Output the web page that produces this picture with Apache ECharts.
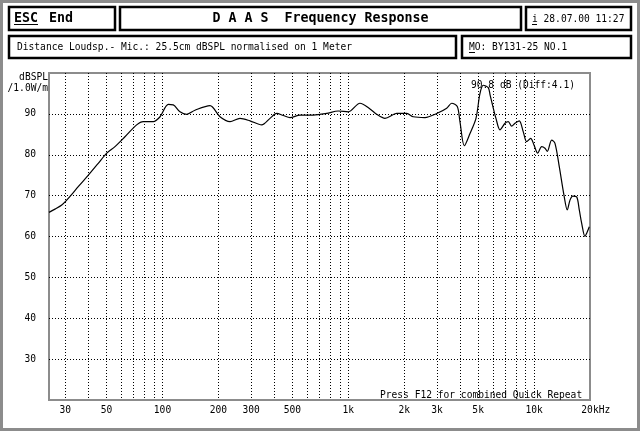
<!DOCTYPE html>
<html>
<head>
<meta charset="utf-8">
<script src="https://cdn.jsdelivr.net/npm/echarts@6/dist/echarts.min.js"></script>
<style>
html,body{margin:0;padding:0;background:#fff;}
#chart{width:640px;height:431px;}
</style>
</head>
<body>
<div id="chart"></div>
<script>
// ---- data ----
const freqHz = [24.5, 26.4, 28.7, 30.5, 32.5, 35.2, 39.9, 45.1, 50.1, 55.5, 62.8, 72.6, 78.8, 89.2, 97, 107.5, 114.3, 124.2, 135, 149.6, 180.2, 203.9, 230.9, 261.3, 295.8, 342, 379, 411.9, 447, 485.6, 549.6, 648, 765, 883, 1000, 1156, 1309, 1421, 1576, 1822, 2063, 2238, 2587, 2991, 3386, 3604, 3861, 3991, 4212, 4520, 4868, 5116, 5329, 5669, 5800, 5950, 6235, 6554, 6975, 7264, 7578, 7894, 8325, 8749, 9124, 9589, 9989, 10457, 10991, 11446, 11780, 12439, 12958, 13666, 14487, 15092, 15607, 16141, 16959, 17515, 18044, 18796, 19198, 19825];
const splDb = [65.9, 66.7, 67.7, 68.9, 70.3, 72.2, 75.0, 77.9, 80.4, 82.0, 84.4, 87.3, 88.1, 88.1, 89.3, 92.3, 92.2, 90.5, 89.9, 90.9, 92.0, 89.3, 88.1, 88.9, 88.3, 87.3, 88.9, 90.1, 89.6, 89.1, 89.7, 89.7, 90.1, 90.7, 90.5, 92.6, 91.2, 89.9, 88.9, 90.1, 90.1, 89.3, 89.1, 90.1, 91.4, 92.6, 91.8, 88.1, 82.2, 85.2, 88.9, 95.0, 97.0, 96.4, 94.6, 92.5, 88.9, 86.1, 87.7, 88.1, 87.0, 87.7, 88.3, 85.6, 83.2, 84.0, 82.4, 80.4, 82.0, 81.6, 80.8, 83.6, 82.8, 77.1, 70.1, 66.5, 68.9, 69.9, 69.7, 66.5, 63.2, 60.0, 60.8, 62.4];

const gridFreqs = [30, 40, 50, 60, 70, 80, 90, 100, 200, 300, 400, 500, 600, 700, 800, 900, 1000, 2000, 3000, 4000, 5000, 6000, 7000, 8000, 9000, 10000];
const labelFreqs = [30, 50, 100, 200, 300, 500, 1000, 2000, 3000, 5000, 10000, 20000];
const labelTexts = ['30', '50', '100', '200', '300', '500', '1k', '2k', '3k', '5k', '10k', '  20kHz'];
const yTicks = [30, 40, 50, 60, 70, 80, 90];

const MONO = '"DejaVu Sans Mono", "Liberation Mono", monospace';
const chart = echarts.init(document.getElementById('chart'), null, {renderer: 'canvas'});

function fmtX(v) {
  for (let i = 0; i < labelFreqs.length; i++) {
    if (Math.abs(v - labelFreqs[i]) / labelFreqs[i] < 1e-4) return labelTexts[i];
  }
  return '';
}

function txt(x, y, text, opts) {
  opts = opts || {};
  return {
    type: 'text', z: 100,
    style: {
      x: x, y: y, text: text,
      font: opts.font || ('9.6px ' + MONO),
      fill: opts.fill || '#000',
      align: opts.align || 'left', textAlign: opts.align || 'left',
      verticalAlign: 'middle', textVerticalAlign: 'middle'
    }
  };
}
function box(x, y, w, h) {
  return {type: 'rect', z: 100, shape: {x: x, y: y, width: w, height: h},
    style: {fill: 'none', stroke: '#000', lineWidth: 2.5}};
}
function uline(x1, x2, y) {
  return {type: 'line', z: 100, shape: {x1: x1, y1: y, x2: x2, y2: y},
    style: {stroke: '#000', lineWidth: 1}};
}

const seriesData = freqHz.map((f, i) => [f, splDb[i]]);
const BOLD = 'bold 13.3px ' + MONO;

const option = {
  animation: false,
  backgroundColor: '#fff',
  grid: {left: 49, top: 73, width: 541, height: 327, show: true,
    borderColor: '#8c8c8c', borderWidth: 2, backgroundColor: 'transparent'},
  xAxis: {
    type: 'log', logBase: 10, min: 24.5, max: 20000,
    axisLine: {show: false},
    axisTick: {show: false, customValues: gridFreqs},
    minorTick: {show: false},
    splitLine: {show: true, lineStyle: {color: '#000', width: 1, type: [1, 2]}},
    axisLabel: {customValues: labelFreqs, formatter: fmtX, color: '#000',
      fontFamily: '"DejaVu Sans Mono"', fontSize: 9.6, margin: 5}
  },
  yAxis: {
    type: 'value', min: 20, max: 100, interval: 10,
    axisLine: {show: false},
    axisTick: {show: false, customValues: yTicks},
    splitLine: {show: true, lineStyle: {color: '#000', width: 1, type: [1, 2]}},
    axisLabel: {customValues: yTicks, color: '#000',
      fontFamily: '"DejaVu Sans Mono"', fontSize: 9.6, margin: 13}
  },
  series: [{
    type: 'line', data: seriesData, symbol: 'none', showSymbol: false,
    smooth: 0.3, lineStyle: {color: '#000', width: 1.2}, z: 10
  }],
  graphic: [
    {type: 'rect', z: 100, shape: {x: 1.5, y: 1.5, width: 637, height: 428},
      style: {fill: 'none', stroke: '#8c8c8c', lineWidth: 3}},
    box(9, 7, 106, 23),
    box(120, 7, 401, 23),
    box(526, 7, 105, 23),
    box(9, 36, 447, 22),
    box(462, 36, 169, 22),
    txt(14, 19, 'ESC', {font: BOLD}),
    uline(14, 38, 24.5),
    txt(49, 19, 'End', {font: BOLD}),
    txt(320.5, 19, 'D A A S  Frequency Response', {font: BOLD, align: 'center'}),
    txt(532, 19, 'i 28.07.00 11:27'),
    uline(532, 537, 24.5),
    txt(17, 47, 'Distance Loudsp.- Mic.: 25.5cm dBSPL normalised on 1 Meter'),
    txt(469, 47, 'MO: BY131-25 NO.1'),
    uline(469, 475, 52.5),
    txt(48, 77, 'dBSPL', {align: 'right'}),
    txt(48, 88, '/1.0W/m', {align: 'right'}),
    txt(471, 85, '90.8 dB (Diff:4.1)'),
    txt(380, 395, 'Press F12 for combined Quick Repeat')
  ]
};
chart.setOption(option);
</script>
</body>
</html>
